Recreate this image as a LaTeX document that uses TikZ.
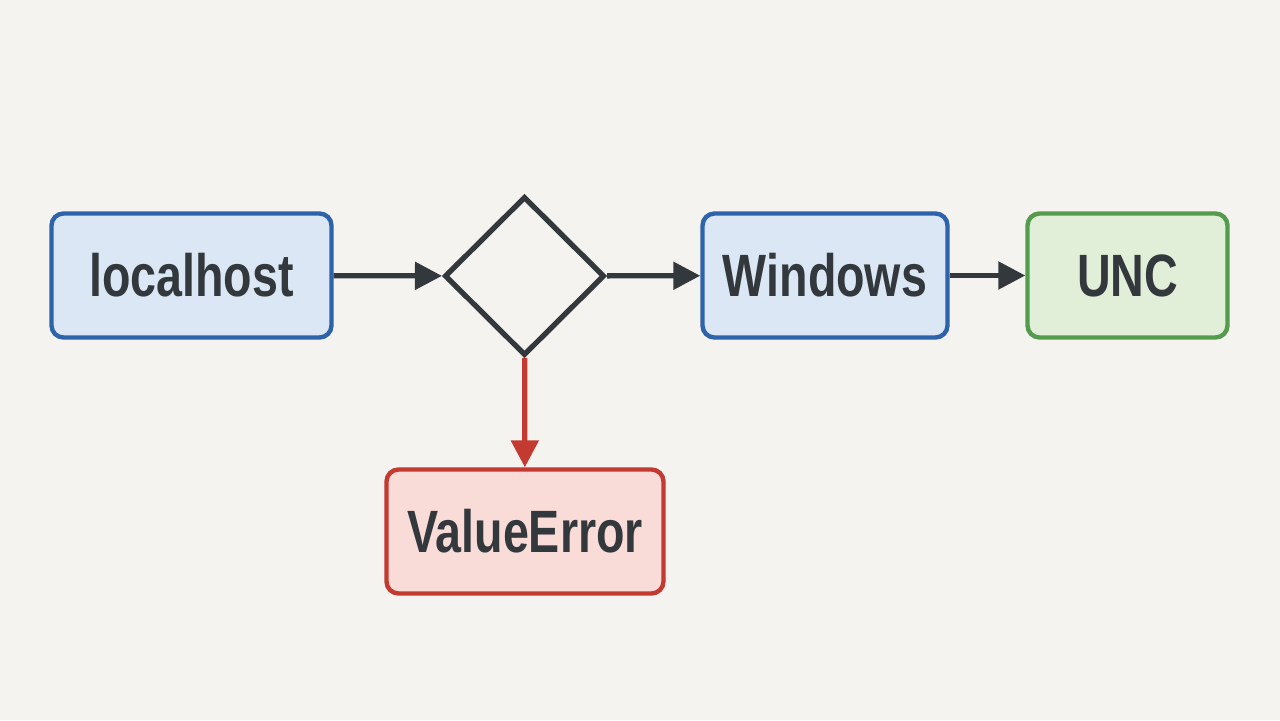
\documentclass[tikz,border=0pt]{standalone}
\usepackage{fontspec}
\setmainfont{Liberation Sans}[FakeStretch=0.78]
\usetikzlibrary{arrows.meta}
\usetikzlibrary{shapes.geometric}
\definecolor{paper}{HTML}{F4F3EF}
\definecolor{ink}{HTML}{33383D}
\definecolor{hostblue}{HTML}{2C63AA}
\definecolor{hostfill}{HTML}{DBE7F4}
\definecolor{uncgreen}{HTML}{559B4E}
\definecolor{uncfill}{HTML}{E1EED8}
\definecolor{errred}{HTML}{C23A30}
\definecolor{errfill}{HTML}{F9DCD8}
\tikzset{
  box/.style={rectangle,rounded corners=0.24cm,line width=2.5pt,minimum height=2.48cm,
    text=ink,font=\fontsize{34}{40}\selectfont\bfseries,inner sep=0pt},
  flow/.style={line width=3pt,-{Triangle[length=0.54cm,width=0.54cm]}}
}
\begin{document}
\begin{tikzpicture}
  \fill[paper] (0,0) rectangle (25.6,-14.4);
  \useasboundingbox (0,0) rectangle (25.6,-14.4);
  \node[box,draw=hostblue,fill=hostfill,minimum width=5.6cm] (localhost) at (3.83,-5.51) {localhost};
  \node[diamond,draw=ink,line width=3pt,minimum width=3.2cm,minimum height=3.18cm,inner sep=0pt] (check) at (10.49,-5.52) {};
  \node[box,draw=hostblue,fill=hostfill,minimum width=4.9cm] (windows) at (16.5,-5.51) {Windows};
  \node[box,draw=uncgreen,fill=uncfill,minimum width=4.0cm] (unc) at (22.55,-5.51) {UNC};
  \node[box,draw=errred,fill=errfill,minimum width=5.54cm] (valueerror) at (10.5,-10.63) {ValueError};
  \draw[flow,ink] (localhost) -- (check);
  \draw[flow,ink] (check) -- (windows);
  \draw[flow,ink] (windows) -- (unc);
  \draw[flow,errred] (check) -- (valueerror);
\end{tikzpicture}
\end{document}
